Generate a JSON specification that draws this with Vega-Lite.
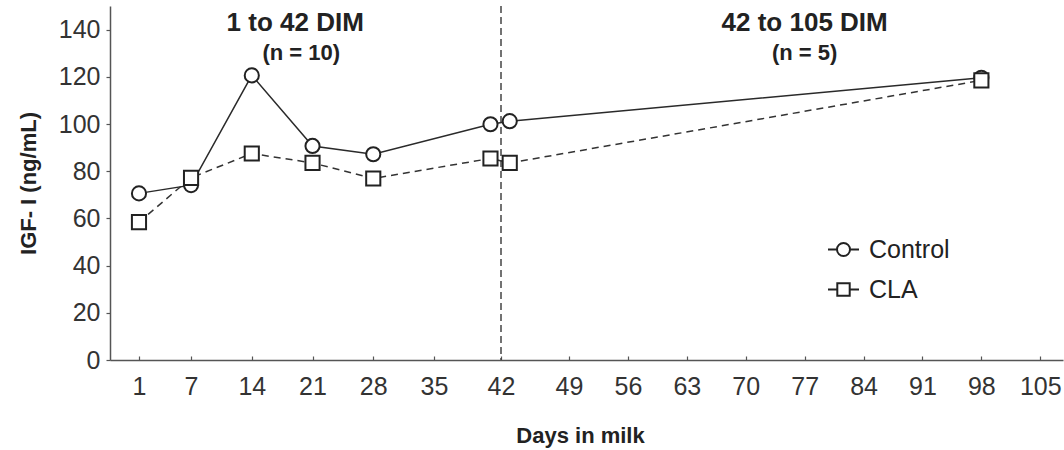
{
  "$schema": "https://vega.github.io/schema/vega-lite/v6.json",
  "width": 953,
  "height": 354,
  "autosize": {"type": "none"},
  "padding": {"left": 110, "top": 6, "right": 1, "bottom": 90},
  "background": "white",
  "config": {
    "view": {"stroke": null},
    "font": "Liberation Sans",
    "axis": {"grid": false, "domainColor": "#555", "tickColor": "#555", "domainWidth": 1.5, "tickWidth": 1.2, "labelColor": "#333", "titleColor": "#222", "labelFont": "Liberation Sans", "titleFont": "Liberation Sans", "labelFontSize": 25, "titleFontSize": 22, "titleFontWeight": "bold"}
  },
  "datasets": {
    "igf": [
      {"day": 1, "group": "Control", "igf": 70.6},
      {"day": 7, "group": "Control", "igf": 74.1},
      {"day": 14, "group": "Control", "igf": 120.6},
      {"day": 21, "group": "Control", "igf": 90.7},
      {"day": 28, "group": "Control", "igf": 87.2},
      {"day": 40.9, "group": "Control", "igf": 99.9},
      {"day": 42.9, "group": "Control", "igf": 101.2},
      {"day": 98, "group": "Control", "igf": 119.6},
      {"day": 1, "group": "CLA", "igf": 58.4},
      {"day": 7, "group": "CLA", "igf": 77.2},
      {"day": 14, "group": "CLA", "igf": 87.5},
      {"day": 21, "group": "CLA", "igf": 83.5},
      {"day": 28, "group": "CLA", "igf": 76.9},
      {"day": 40.9, "group": "CLA", "igf": 85.4},
      {"day": 42.9, "group": "CLA", "igf": 83.5},
      {"day": 98, "group": "CLA", "igf": 118.5}
    ],
    "titles": [
      {"text": "1 to 42 DIM", "day": 19, "val": 143},
      {"text": "42 to 105 DIM", "day": 77, "val": 143}
    ],
    "subtitles": [
      {"text": "(n = 10)", "day": 19.7, "val": 130},
      {"text": "(n = 5)", "day": 77, "val": 130}
    ],
    "divider": [{"day": 42}]
  },
  "layer": [
    {
      "data": {"name": "divider"},
      "mark": {"type": "rule", "strokeDash": [7, 4], "color": "#444", "strokeWidth": 1.5},
      "encoding": {
        "x": {"field": "day", "type": "quantitative"}
      }
    },
    {
      "data": {"name": "igf"},
      "transform": [{"filter": "datum.group === 'Control'"}],
      "mark": {"type": "line", "strokeWidth": 1.5, "color": "#2a2a2a"},
      "encoding": {
        "x": {
          "field": "day", "type": "quantitative",
          "scale": {"domain": [-2.34, 35, 42, 49, 107.7], "range": [0, 324, 391, 459, 953], "zero": false, "nice": false},
          "axis": {"values": [1, 7, 14, 21, 28, 35, 42, 49, 56, 63, 70, 77, 84, 91, 98, 105], "title": "Days in milk", "tickSize": -4, "labelPadding": 18, "titlePadding": 26, "titleX": 470}
        },
        "y": {
          "field": "igf", "type": "quantitative",
          "scale": {"domain": [0, 150], "nice": false},
          "axis": {"values": [0, 20, 40, 60, 80, 100, 120, 140], "title": "IGF- I (ng/mL)", "tickSize": 4, "labelPadding": 6, "titlePadding": 18}
        }
      }
    },
    {
      "data": {"name": "igf"},
      "transform": [{"filter": "datum.group === 'CLA'"}],
      "mark": {"type": "line", "strokeWidth": 1.5, "color": "#333", "strokeDash": [7, 5]},
      "encoding": {
        "x": {"field": "day", "type": "quantitative"},
        "y": {"field": "igf", "type": "quantitative"}
      }
    },
    {
      "data": {"name": "igf"},
      "mark": {"type": "point", "filled": false, "stroke": "#222", "strokeWidth": 2, "size": 0, "opacity": 1},
      "encoding": {
        "x": {"field": "day", "type": "quantitative"},
        "y": {"field": "igf", "type": "quantitative"},
        "shape": {
          "field": "group", "type": "nominal",
          "scale": {"domain": ["Control", "CLA"], "range": ["M-1,0L-0.42,0M0.42,0L1,0M-0.42,0A0.42,0.42,0,1,1,0.42,0A0.42,0.42,0,1,1,-0.42,0Z", "M-1,0L-0.4,0M0.4,0L1,0M-0.4,-0.4L0.4,-0.4L0.4,0.4L-0.4,0.4Z"]},
          "legend": {
            "title": null,
            "orient": "none",
            "legendX": 717,
            "legendY": 227,
            "padding": 0,
            "symbolSize": 961,
            "symbolOpacity": 1,
            "symbolFillColor": "white",
            "symbolStrokeColor": "#222",
            "symbolStrokeWidth": 2,
            "labelFontSize": 25,
            "labelColor": "#222",
            "labelFont": "Liberation Sans",
            "labelOffset": 9,
            "rowPadding": 10
          }
        }
      }
    },
    {
      "data": {"name": "igf"},
      "transform": [{"filter": "datum.group === 'Control'"}],
      "mark": {"type": "point", "shape": "circle", "filled": true, "fill": "white", "stroke": "#222", "strokeWidth": 2, "size": 200, "opacity": 1},
      "encoding": {
        "x": {"field": "day", "type": "quantitative"},
        "y": {"field": "igf", "type": "quantitative"}
      }
    },
    {
      "data": {"name": "igf"},
      "transform": [{"filter": "datum.group === 'CLA'"}],
      "mark": {"type": "point", "shape": "square", "filled": true, "fill": "white", "stroke": "#222", "strokeWidth": 2, "size": 200, "opacity": 1},
      "encoding": {
        "x": {"field": "day", "type": "quantitative"},
        "y": {"field": "igf", "type": "quantitative"}
      }
    },
    {
      "data": {"name": "titles"},
      "mark": {"type": "text", "fontSize": 26, "fontWeight": "bold", "color": "#222", "font": "Liberation Sans", "baseline": "middle"},
      "encoding": {
        "x": {"field": "day", "type": "quantitative"},
        "y": {"field": "val", "type": "quantitative"},
        "text": {"field": "text"}
      }
    },
    {
      "data": {"name": "subtitles"},
      "mark": {"type": "text", "fontSize": 22, "fontWeight": "bold", "color": "#222", "font": "Liberation Sans", "baseline": "middle"},
      "encoding": {
        "x": {"field": "day", "type": "quantitative"},
        "y": {"field": "val", "type": "quantitative"},
        "text": {"field": "text"}
      }
    }
  ]
}
